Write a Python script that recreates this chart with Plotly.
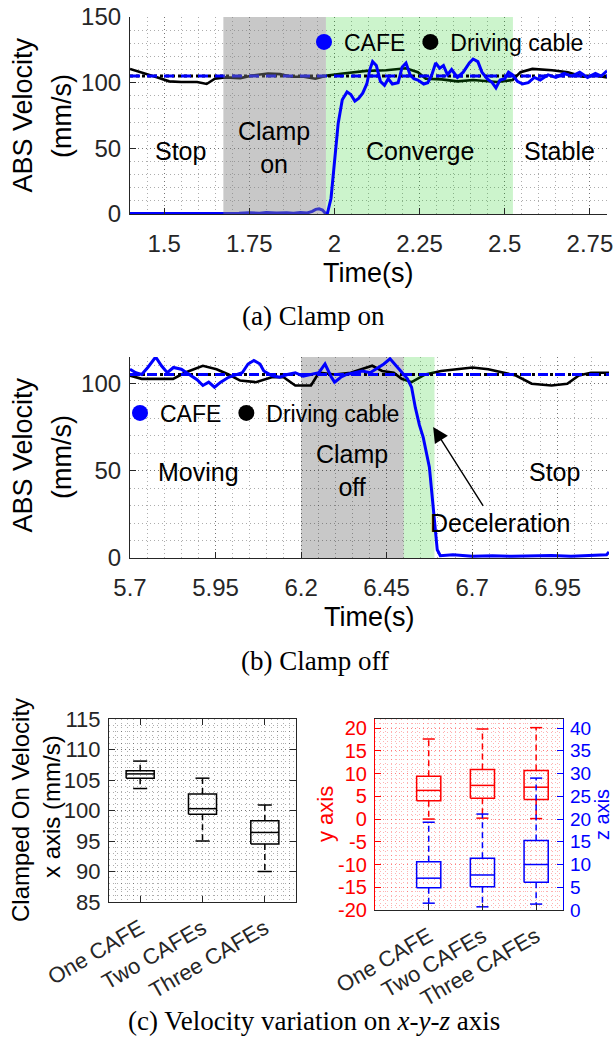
import plotly.graph_objects as go

# ---------------- data ----------------
# Panel (a): Clamp on
t_cafe_a = [1.40, 1.50, 1.60, 1.67, 1.70, 1.72, 1.75, 1.78, 1.80, 1.83, 1.86, 1.88, 1.90, 1.92,
            1.935, 1.945, 1.955, 1.965, 1.972, 1.979, 1.990, 2.002, 2.011, 2.023, 2.037, 2.048,
            2.060, 2.071, 2.083, 2.095, 2.104, 2.112, 2.123, 2.135, 2.147, 2.158, 2.170, 2.187,
            2.199, 2.210, 2.222, 2.233, 2.245, 2.262, 2.274, 2.286, 2.297, 2.309, 2.320, 2.332,
            2.344, 2.361, 2.378, 2.396, 2.407, 2.421, 2.433, 2.448, 2.463, 2.474, 2.486, 2.500,
            2.511, 2.523, 2.537, 2.552, 2.569, 2.587, 2.604, 2.627, 2.650, 2.674, 2.697, 2.720,
            2.743, 2.766, 2.783, 2.800]
v_cafe_a = [0.3, 0.3, 0.3, 0.3, 0.8, 0.5, 1.0, 0.6, 1.2, 0.7, 1.0, 0.6, 1.2, 0.8,
            2.0, 3.5, 4.0, 3.0, 1.0, 0.0, 12, 44, 69, 87, 93, 91,
            86, 88, 92, 99, 110, 116, 113, 101, 98, 103, 99, 100,
            112, 115, 106, 103, 102, 99, 100, 106, 115, 111, 113, 106,
            110, 104, 108, 115, 118, 116, 108, 103, 100, 96, 102, 103,
            108, 106, 101, 99, 100, 104, 102, 106, 104, 107, 105, 108,
            104, 107, 105, 109]
t_cable_a = [1.40, 1.434, 1.481, 1.515, 1.55, 1.597, 1.625, 1.649, 1.678, 1.724, 1.759, 1.805,
             1.84, 1.874, 1.91, 1.944, 1.979, 2.025, 2.094, 2.152, 2.21, 2.245, 2.268, 2.315,
             2.361, 2.407, 2.442, 2.477, 2.523, 2.546, 2.581, 2.639, 2.685, 2.731, 2.766, 2.80]
v_cable_a = [110.5, 108, 104, 101, 100.5, 100.5, 99, 103, 104, 103.5, 105.5, 107,
             106.5, 104.5, 104.5, 103, 105.5, 107, 109, 109.5, 111, 108, 103, 102.5,
             101, 102, 101, 100.5, 102, 108, 110.5, 109.5, 108, 104.5, 105.5, 104]
ref_a = 105
phase_a = [1.674, 1.975, 2.524]          # clamp-on start, converge start, stable start
phase_labels_a = ["Stop", "Clamp<br>on", "Converge", "Stable"]
phase_label_x_a = [1.547, 1.822, 2.250, 2.662]
phase_label_y_a = [48, 51, 48, 48]
xticks_a = [1.5, 1.75, 2, 2.25, 2.5, 2.75]
xticktext_a = ["1.5", "1.75", "2", "2.25", "2.5", "2.75"]
yticks_a = [0, 50, 100, 150]

# Panel (b): Clamp off
t_cafe_b = [5.700, 5.717, 5.734, 5.752, 5.775, 5.792, 5.809, 5.827, 5.850, 5.873, 5.896, 5.913,
            5.930, 5.947, 5.965, 5.988, 6.011, 6.028, 6.045, 6.062, 6.080, 6.091, 6.114, 6.137,
            6.160, 6.183, 6.206, 6.229, 6.252, 6.270, 6.287, 6.298, 6.316, 6.333, 6.356, 6.379,
            6.402, 6.425, 6.442, 6.460, 6.477, 6.494, 6.511, 6.523, 6.534, 6.546, 6.557, 6.575,
            6.586, 6.598, 6.607, 6.644, 6.701, 6.759, 6.816, 6.874, 6.932, 6.989, 7.047, 7.093,
            7.100]
v_cafe_b = [108, 106, 105, 109, 115, 110, 106, 109, 108, 105, 102, 98.7,
            100.6, 97.7, 100.6, 103.4, 105, 106, 111, 113, 111, 107, 104.4, 103.4,
            105, 106, 104, 105, 106, 111, 104, 100.6, 103.4, 105, 106, 107,
            106, 109, 111, 114, 110, 106, 102.5, 97.7, 86, 76, 69, 52,
            29.4, 4.7, 1.3, 1.9, 1.0, 1.3, 1.0, 1.3, 1.5, 1.0, 1.3, 1.9,
            3.5]
t_cable_b = [5.700, 5.734, 5.780, 5.826, 5.860, 5.913, 5.953, 5.988, 6.022, 6.068, 6.114, 6.149,
             6.183, 6.229, 6.252, 6.298, 6.345, 6.379, 6.408, 6.437, 6.471, 6.494, 6.523, 6.563,
             6.609, 6.655, 6.701, 6.747, 6.793, 6.828, 6.874, 6.932, 6.978, 7.012, 7.047, 7.100]
v_cable_b = [104.4, 102.5, 102.5, 102.5, 106, 110, 108, 105, 101.5, 100.6, 103.4, 103.4,
             98.7, 98.7, 106, 105, 106, 108, 110, 107, 106, 102.5, 100.6, 105,
             107, 108, 109, 108, 106, 104.4, 99.7, 98.7, 99.7, 104.4, 106, 106]
ref_b = 105
phase_b = [6.20, 6.50, 6.59]             # clamp-off start, deceleration start, stop start
phase_labels_b = ["Moving", "Clamp<br>off", "Stop"]
phase_label_x_b = [5.90, 6.35, 6.94]
phase_label_y_b = [49, 50, 49]
decel_text_xy = [6.78, 20.2]
decel_arrow_tail = [6.735, 29]
decel_arrow_tip = [6.586, 75]
xticks_b = [5.7, 5.95, 6.2, 6.45, 6.7, 6.95]
xticktext_b = ["5.7", "5.95", "6.2", "6.45", "6.7", "6.95"]
yticks_b = [0, 50, 100]

# Panel (c): box statistics
categories = ["One CAFE", "Two CAFEs", "Three CAFEs"]
cat_pos = [1, 2, 3]
x_lower = [103.6, 95.0, 90.0]
x_q1 = [105.3, 99.4, 94.5]
x_med = [106.0, 100.3, 96.4]
x_q3 = [106.5, 102.7, 98.3]
x_upper = [108.1, 105.3, 100.9]

y_lower = [0.0, 0.2, 0.1]
y_q1 = [4.0, 4.6, 4.3]
y_med = [6.3, 7.4, 7.0]
y_q3 = [9.4, 10.9, 10.7]
y_upper = [17.6, 19.8, 20.1]

z_lower = [1.5, 0.7, 1.3]
z_q1 = [4.9, 5.1, 6.1]
z_med = [7.0, 7.7, 10.0]
z_q3 = [10.6, 11.4, 15.3]
z_upper = [19.3, 21.1, 29.0]

yticks_cx = [85, 90, 95, 100, 105, 110, 115]
yticks_cy = [-20, -15, -10, -5, 0, 5, 10, 15, 20]
yticks_cz = [0, 5, 10, 15, 20, 25, 30, 35, 40]

# ---------------- helpers ----------------
W, H = 615, 1038
SANS = "Liberation Sans, Arial, Helvetica, sans-serif"
SERIF = "Liberation Serif, Times New Roman, serif"
DARK = "#262626"
BLUE = "#0000ff"
GRID = "rgba(0,0,0,0.32)"
PINK = "rgba(255,0,0,0.30)"
GDASH = "1px,3px"


def xd(a, b):
    return [a / W, b / W]


def yd(top, bottom):
    return [1 - bottom / H, 1 - top / H]


def px(x):
    return x / W


def py(y):
    return 1 - y / H


def box_paths(pos, lo, q1, med, q3, hi, hw=0.225, cw=0.1125):
    bx, by, wx, wy, cx, cy = [], [], [], [], [], []
    for p, l, a, m, b, h in zip(pos, lo, q1, med, q3, hi):
        bx += [p - hw, p + hw, p + hw, p - hw, p - hw, None, p - hw, p + hw, None]
        by += [a, a, b, b, a, None, m, m, None]
        wx += [p, p, None, p, p, None]
        wy += [b, h, None, a, l, None]
        cx += [p - cw, p + cw, None, p - cw, p + cw, None]
        cy += [h, h, None, l, l, None]
    return bx, by, wx, wy, cx, cy


fig = go.Figure()

# ---------------- panel (a) ----------------
fig.add_trace(go.Scatter(x=t_cable_a, y=v_cable_a, mode="lines", line=dict(color="black", width=2.6),
                         xaxis="x", yaxis="y", showlegend=False, hoverinfo="skip"))
fig.add_trace(go.Scatter(x=[phase_a[1], phase_a[2], phase_a[2], phase_a[1], phase_a[1]],
                         y=[0, 0, 150, 150, 0], mode="lines", fill="toself",
                         fillcolor="rgba(0,200,0,0.2)", line=dict(width=0),
                         xaxis="x", yaxis="y", showlegend=False, hoverinfo="skip"))
fig.add_trace(go.Scatter(x=[1.4, 2.8], y=[ref_a, ref_a], mode="lines",
                         line=dict(color="black", width=3, dash="dot"),
                         xaxis="x", yaxis="y", showlegend=False, hoverinfo="skip"))
fig.add_trace(go.Scatter(x=[1.4, 2.8], y=[ref_a, ref_a], mode="lines",
                         line=dict(color=BLUE, width=3, dash="10px,7px"),
                         xaxis="x", yaxis="y", showlegend=False, hoverinfo="skip"))
fig.add_trace(go.Scatter(x=t_cafe_a, y=v_cafe_a, mode="lines", line=dict(color=BLUE, width=3),
                         xaxis="x", yaxis="y", showlegend=False, hoverinfo="skip"))
fig.add_trace(go.Scatter(x=[phase_a[0], phase_a[1], phase_a[1], phase_a[0], phase_a[0]],
                         y=[0, 0, 150, 150, 0], mode="lines", fill="toself",
                         fillcolor="rgba(128,128,128,0.43)", line=dict(width=0),
                         xaxis="x", yaxis="y", showlegend=False, hoverinfo="skip"))
# legend entries (a)
fig.add_trace(go.Scatter(x=[None], y=[None], mode="markers", name="CAFE",
                         marker=dict(color=BLUE, size=16), legend="legend", xaxis="x", yaxis="y"))
fig.add_trace(go.Scatter(x=[None], y=[None], mode="markers", name="Driving cable",
                         marker=dict(color="black", size=16), legend="legend", xaxis="x", yaxis="y"))

# ---------------- panel (b) ----------------
fig.add_trace(go.Scatter(x=t_cable_b, y=v_cable_b, mode="lines", line=dict(color="black", width=2.6),
                         xaxis="x2", yaxis="y2", showlegend=False, hoverinfo="skip"))
fig.add_trace(go.Scatter(x=[phase_b[1], phase_b[2], phase_b[2], phase_b[1], phase_b[1]],
                         y=[0, 0, 115, 115, 0], mode="lines", fill="toself",
                         fillcolor="rgba(0,200,0,0.2)", line=dict(width=0),
                         xaxis="x2", yaxis="y2", showlegend=False, hoverinfo="skip"))
fig.add_trace(go.Scatter(x=[5.7, 7.1], y=[ref_b, ref_b], mode="lines",
                         line=dict(color="black", width=3, dash="dot"),
                         xaxis="x2", yaxis="y2", showlegend=False, hoverinfo="skip"))
fig.add_trace(go.Scatter(x=[5.7, 7.1], y=[ref_b, ref_b], mode="lines",
                         line=dict(color=BLUE, width=3, dash="10px,7px"),
                         xaxis="x2", yaxis="y2", showlegend=False, hoverinfo="skip"))
fig.add_trace(go.Scatter(x=t_cafe_b, y=v_cafe_b, mode="lines", line=dict(color=BLUE, width=3),
                         xaxis="x2", yaxis="y2", showlegend=False, hoverinfo="skip"))
fig.add_trace(go.Scatter(x=[None], y=[None], mode="markers", name="CAFE",
                         marker=dict(color=BLUE, size=16), legend="legend2", xaxis="x2", yaxis="y2"))
fig.add_trace(go.Scatter(x=[None], y=[None], mode="markers", name="Driving cable",
                         marker=dict(color="black", size=16), legend="legend2", xaxis="x2", yaxis="y2"))

# ---------------- panel (c) left ----------------
bx, by, wx, wy, cx, cy = box_paths(cat_pos, x_lower, x_q1, x_med, x_q3, x_upper)
fig.add_trace(go.Scatter(x=wx, y=wy, mode="lines", line=dict(color="black", width=1.5, dash="6px,4px"),
                         xaxis="x3", yaxis="y3", showlegend=False, hoverinfo="skip"))
fig.add_trace(go.Scatter(x=cx, y=cy, mode="lines", line=dict(color="black", width=1.5),
                         xaxis="x3", yaxis="y3", showlegend=False, hoverinfo="skip"))
fig.add_trace(go.Scatter(x=bx, y=by, mode="lines", line=dict(color="black", width=1.5),
                         xaxis="x3", yaxis="y3", showlegend=False, hoverinfo="skip"))

# ---------------- panel (c) right ----------------
for lo, a, m, b, hi, col, ya in [(y_lower, y_q1, y_med, y_q3, y_upper, "#ff0000", "y4"),
                                 (z_lower, z_q1, z_med, z_q3, z_upper, BLUE, "y5")]:
    bx, by, wx, wy, cx, cy = box_paths(cat_pos, lo, a, m, b, hi)
    fig.add_trace(go.Scatter(x=wx, y=wy, mode="lines", line=dict(color=col, width=1.5, dash="6px,4px"),
                             xaxis="x4", yaxis=ya, showlegend=False, hoverinfo="skip"))
    fig.add_trace(go.Scatter(x=cx, y=cy, mode="lines", line=dict(color=col, width=1.5),
                             xaxis="x4", yaxis=ya, showlegend=False, hoverinfo="skip"))
    fig.add_trace(go.Scatter(x=bx, y=by, mode="lines", line=dict(color=col, width=1.5),
                             xaxis="x4", yaxis=ya, showlegend=False, hoverinfo="skip"))

# ---------------- axes ----------------
common = dict(showline=True, linecolor=DARK, linewidth=1.2, ticks="inside", ticklen=6,
              tickcolor=DARK, zeroline=False, showgrid=True, gridcolor=GRID, griddash=GDASH,
              gridwidth=1, automargin=False, tickfont=dict(family=SANS, size=24, color=DARK))

fig.update_layout(
    template="none",
    xaxis=dict(common, domain=xd(130, 607), range=[1.4, 2.8], anchor="y", tickmode="array",
               tickvals=xticks_a, ticktext=xticktext_a, ticklabelstandoff=8,
               minor=dict(tick0=1.4, dtick=0.05, showgrid=True, gridcolor=GRID, griddash=GDASH)),
    yaxis=dict(common, domain=yd(17, 214), range=[0, 150], anchor="x", tickmode="array",
               tickvals=yticks_a, ticktext=[str(v) for v in yticks_a], ticklabelstandoff=3,
               minor=dict(tick0=0, dtick=10, showgrid=True, gridcolor=GRID, griddash=GDASH)),
    xaxis2=dict(common, domain=xd(130, 609), range=[5.7, 7.1], anchor="y2", tickmode="array",
                tickvals=xticks_b, ticktext=xticktext_b, ticklabelstandoff=8,
                minor=dict(tick0=5.7, dtick=0.05, showgrid=True, gridcolor=GRID, griddash=GDASH)),
    yaxis2=dict(common, domain=yd(357, 558), range=[0, 115], anchor="x2", tickmode="array",
                tickvals=yticks_b, ticktext=[str(v) for v in yticks_b], ticklabelstandoff=3,
                minor=dict(tick0=0, dtick=10, showgrid=True, gridcolor=GRID, griddash=GDASH)),
    xaxis3=dict(common, domain=xd(109, 296), range=[0.5, 3.5], anchor="y3", mirror="ticks",
                tickmode="array", tickvals=cat_pos, ticktext=categories, tickangle=-30,
                tickfont=dict(family=SANS, size=22, color=DARK), ticklabelstandoff=4,
                showgrid=False,
                minor=dict(tick0=0.5, dtick=0.1, showgrid=True, gridcolor=GRID, griddash=GDASH)),
    yaxis3=dict(common, domain=yd(719, 902), range=[85, 115], anchor="x3", mirror="ticks",
                tickmode="array", tickvals=yticks_cx, ticktext=[str(v) for v in yticks_cx],
                tickfont=dict(family=SANS, size=22, color=DARK), ticklabelstandoff=3,
                minor=dict(tick0=85, dtick=1, showgrid=True, gridcolor=GRID, griddash=GDASH)),
    xaxis4=dict(common, domain=xd(375, 563), range=[0, 3.5], anchor="y4", mirror=True,
                tickmode="array", tickvals=cat_pos, ticktext=categories, tickangle=-30,
                tickfont=dict(family=SANS, size=22, color=DARK), ticklabelstandoff=4,
                showgrid=False, gridcolor=PINK,
                minor=dict(tick0=0, dtick=0.1, showgrid=True, gridcolor=PINK, griddash=GDASH)),
    yaxis4=dict(common, domain=yd(719, 910), range=[-20, 22], anchor="x4", linecolor="#ff0000",
                tickcolor="#ff0000", tickmode="array", tickvals=yticks_cy,
                ticktext=[str(v) for v in yticks_cy], gridcolor=PINK,
                tickfont=dict(family=SANS, size=20, color="#ff0000"), ticklabelstandoff=3,
                minor=dict(tick0=-20, dtick=1, showgrid=True, gridcolor=PINK, griddash=GDASH)),
    yaxis5=dict(common, range=[0, 42], anchor="x4", overlaying="y4", side="right",
                linecolor=BLUE, tickcolor=BLUE, tickmode="array", tickvals=yticks_cz,
                ticktext=[str(v) for v in yticks_cz], showgrid=False,
                tickfont=dict(family=SANS, size=19, color=BLUE), ticklabelstandoff=2),
)

# ---------------- shapes (gray band panel b) ----------------
fig.add_shape(type="rect", xref="x2", yref="y2", x0=phase_b[0], x1=phase_b[1], y0=0, y1=115,
              fillcolor="#c8c8c8", line=dict(width=0), layer="below")

# ---------------- annotations ----------------
ann = []
for txt, x, y in zip(phase_labels_a, phase_label_x_a, phase_label_y_a):
    ann.append(dict(text=txt, x=x, y=y, xref="x", yref="y", showarrow=False,
                    font=dict(family=SANS, size=25, color="black")))
for txt, x, y in zip(phase_labels_b, phase_label_x_b, phase_label_y_b):
    ann.append(dict(text=txt, x=x, y=y, xref="x2", yref="y2", showarrow=False,
                    font=dict(family=SANS, size=25, color="black")))
ann.append(dict(text="Deceleration", x=decel_text_xy[0], y=decel_text_xy[1], xref="x2", yref="y2",
                showarrow=False, font=dict(family=SANS, size=25, color="black")))
ann.append(dict(text="", x=decel_arrow_tip[0], y=decel_arrow_tip[1], xref="x2", yref="y2",
                ax=decel_arrow_tail[0], ay=decel_arrow_tail[1], axref="x2", ayref="y2",
                showarrow=True, arrowhead=2, arrowsize=2.2, arrowwidth=1.4, arrowcolor="black"))

# axis titles
def label(text, x, y, color="black", size=27, angle=-90, pad=1):
    return dict(text=text, x=px(x), y=py(y), xref="paper", yref="paper", showarrow=False,
                textangle=angle, xanchor="center", yanchor="middle", borderpad=pad,
                font=dict(family=SANS, size=size, color=color))

ann += [
    label("ABS Velocity", 22.5, 115), label("(mm/s)", 62, 116),
    label("Time(s)", 368, 273, angle=0),
    label("ABS Velocity", 22.5, 455), label("(mm/s)", 62, 457),
    label("Time(s)", 369, 617, angle=0),
    label("Clamped On Velocity", 20, 810, size=24), label("x axis (mm/s)", 51, 807, size=24),
    label("y axis", 325, 814, color="#ff0000", size=22),
    label("z axis", 602, 815, color=BLUE, size=20, pad=0),
]
# captions
for txt, x, y in [("(a) Clamp on", 313, 316.5), ("(b) Clamp off", 315, 661),
                  ("(c) Velocity variation on <i>x</i>-<i>y</i>-<i>z</i> axis", 314, 1021)]:
    ann.append(dict(text=txt, x=px(x), y=py(y), xref="paper", yref="paper", showarrow=False,
                    xanchor="center", yanchor="middle", font=dict(family=SERIF, size=27, color="black")))

fig.update_layout(
    width=W, height=H, margin=dict(l=0, r=0, t=0, b=0, autoexpand=False),
    paper_bgcolor="white", plot_bgcolor="white",
    font=dict(family=SANS, size=24, color=DARK),
    annotations=ann,
    legend=dict(x=px(304), y=py(42), xanchor="left", yanchor="middle", orientation="h",
                bgcolor="rgba(0,0,0,0)", font=dict(family=SANS, size=23, color="black"),
                itemwidth=30, tracegroupgap=0),
    legend2=dict(x=px(120), y=py(413), xanchor="left", yanchor="middle", orientation="h",
                 bgcolor="rgba(0,0,0,0)", font=dict(family=SANS, size=23, color="black"),
                 itemwidth=30, tracegroupgap=0),
)

fig.write_html("out.html")
